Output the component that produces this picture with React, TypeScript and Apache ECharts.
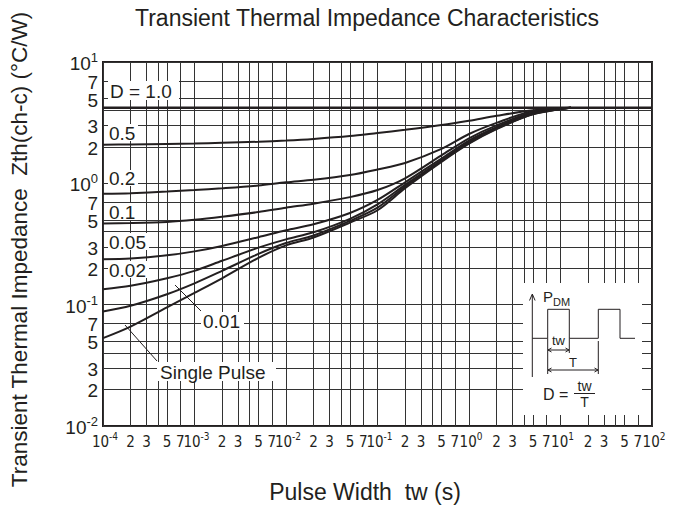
import React, { useEffect, useRef } from "react";
import * as echarts from "echarts";

// ---- data ----
const durations = [1e-4, 2e-4, 5e-4, 1e-3, 2e-3, 5e-3, 1e-2, 2e-2, 5e-2, 1e-1, 2e-1, 5e-1, 1, 2, 5, 13];
const zthD050 = [2.08, 2.09, 2.11, 2.13, 2.16, 2.2, 2.25, 2.32, 2.45, 2.6, 2.76, 3.02, 3.28, 3.6, 4.0, 4.2];
const zthD020 = [0.82, 0.83, 0.855, 0.88, 0.91, 0.96, 1.02, 1.07, 1.17, 1.3, 1.47, 1.92, 2.55, 3.15, 3.95, 4.2];
const zthD010 = [0.467, 0.47, 0.48, 0.5, 0.53, 0.58, 0.63, 0.68, 0.77, 0.88, 1.1, 1.7, 2.35, 3.0, 3.85, 4.2];
const zthD005 = [0.237, 0.24, 0.255, 0.275, 0.305, 0.36, 0.41, 0.46, 0.57, 0.73, 1.02, 1.6, 2.25, 2.9, 3.8, 4.2];
const zthD002 = [0.134, 0.143, 0.165, 0.19, 0.23, 0.295, 0.345, 0.395, 0.51, 0.67, 0.97, 1.55, 2.2, 2.85, 3.75, 4.2];
const zthD001 = [0.088, 0.098, 0.122, 0.15, 0.19, 0.262, 0.322, 0.372, 0.49, 0.63, 0.94, 1.52, 2.15, 2.82, 3.72, 4.2];
const zthSingle = [0.053, 0.066, 0.095, 0.125, 0.165, 0.243, 0.308, 0.358, 0.475, 0.6, 0.91, 1.5, 2.12, 2.8, 3.7, 4.2];
const steadyDurations = [1e-4, 1e2];
const zthD100 = [4.2, 4.2];

const curveNames = ["0.5", "0.2", "0.1", "0.05", "0.02", "0.01", "Single Pulse"];
const curveValues = [zthD050, zthD020, zthD010, zthD005, zthD002, zthD001, zthSingle];

// ---- axes ----
const gridMantissas = [1, 2, 3, 4, 5, 7];
const labelMantissas = [1, 2, 3, 5, 7];
const xDecades = [-4, -3, -2, -1, 0, 1];
const yDecades = [-2, -1, 0];
const xMin = 1e-4;
const xMax = 100;
const yMin = 0.01;
const yMax = 10;

const TITLE = "Transient Thermal Impedance Characteristics";
const X_NAME = "Pulse Width  tw (s)";
const Y_NAME = "Transient Thermal Impedance  Zth(ch-c) (°C/W)";

const FONT = "'Liberation Sans', Arial, Helvetica, sans-serif";
const NARROW = "'Liberation Sans Narrow', 'DejaVu Sans Condensed', 'Liberation Sans', sans-serif";
const INK = "#231f20";

function build(decades: number[], mant: number[]) {
  const out: number[] = [];
  decades.forEach((d) => mant.forEach((m) => out.push(parseFloat((m * Math.pow(10, d)).toPrecision(6)))));
  return out;
}
// the top decade value, nudged inside the axis extent so it is not filtered out
const inside = (v: number) => v * (1 - 1e-9);

const xGrid = [...build(xDecades, gridMantissas), inside(xMax)];
const yGrid = [...build(yDecades, gridMantissas), inside(yMax)];
const xLabels = build(xDecades, labelMantissas);
const yLabelsAll = build(yDecades, labelMantissas);
// labels near the top are split over extra axes so ECharts does not drop crowded end labels
const yLabelsMain = yLabelsAll.slice(0, -1);
const yLabelsNearTop = yLabelsAll.slice(-1);

function sup(n: number) {
  return n < 0 ? "-" + Math.abs(n) : String(n);
}

function fmt(v: number) {
  const e = Math.floor(Math.log10(v) + 1e-6);
  const m = Math.round(v / Math.pow(10, e));
  if (m === 1) return "{d|10}{s|" + sup(e) + "}";
  return "{b|" + m + "}";
}

const xRich = {
  b: { fontSize: 15, fontFamily: NARROW, color: INK, verticalAlign: "bottom", lineHeight: 18 },
  d: { fontSize: 15, fontFamily: NARROW, color: INK, verticalAlign: "bottom", lineHeight: 18, padding: [0, 0, 0, 4] },
  s: { fontSize: 10, fontFamily: NARROW, color: INK, verticalAlign: "top", lineHeight: 10 },
};
const yRich = {
  b: { fontSize: 19, fontFamily: FONT, color: INK, verticalAlign: "bottom", lineHeight: 22 },
  d: { fontSize: 19, fontFamily: FONT, color: INK, verticalAlign: "bottom", lineHeight: 22 },
  s: { fontSize: 13, fontFamily: FONT, color: INK, verticalAlign: "top", lineHeight: 12 },
};

export default function App() {
  const ref = useRef<HTMLDivElement>(null);
  useEffect(() => {
    if (!ref.current) return;
    const chart = echarts.init(ref.current, null, { renderer: "svg" });
    const line = (pts: number[][]) => ({ type: "polyline", shape: { points: pts }, style: { stroke: INK, lineWidth: 1, fill: null }, z: 20 });
    const seg = (x1: number, y1: number, x2: number, y2: number, w = 1) => ({ type: "line", shape: { x1, y1, x2, y2 }, style: { stroke: INK, lineWidth: w }, z: 20 });
    const txt = (x: number, y: number, text: string, size: number, align = "left", rich?: any) => ({
      type: "text",
      x,
      y,
      z: 21,
      style: { text, fontSize: size, fontFamily: FONT, fill: INK, align, verticalAlign: "middle", rich },
    });
    const whiteBox = (x: number, y: number, w: number, h: number) => ({ type: "rect", shape: { x, y, width: w, height: h }, style: { fill: "#fff" }, z: 19 });

    const hiddenParts = { axisLine: { show: false }, axisTick: { show: false }, splitLine: { show: false } };
    const labelOnlyX = (values: number[]) => ({
      type: "log",
      logBase: 10,
      min: xMin,
      max: xMax,
      position: "bottom",
      ...hiddenParts,
      axisLabel: { customValues: values, formatter: (v: number) => fmt(v), margin: 5, rich: xRich },
    });
    const labelOnlyY = (values: number[]) => ({
      type: "log",
      logBase: 10,
      min: yMin,
      max: yMax,
      position: "left",
      ...hiddenParts,
      axisLabel: { customValues: values, formatter: (v: number) => fmt(v), margin: 5, rich: yRich },
    });

    const option: any = {
      animation: false,
      backgroundColor: "#fff",
      title: {
        text: TITLE,
        left: 362,
        top: 1,
        textAlign: "center",
        textStyle: { fontSize: 23, fontWeight: "normal", fontFamily: FONT, color: INK },
      },
      grid: { left: 103, top: 62, width: 549, height: 364, show: true, borderColor: INK, borderWidth: 2, containLabel: false },
      xAxis: [
        {
          type: "log",
          logBase: 10,
          min: xMin,
          max: xMax,
          name: X_NAME,
          nameLocation: "middle",
          nameGap: 54,
          nameTextStyle: { fontSize: 23, fontFamily: FONT, color: INK, padding: [0, 25, 0, 0] },
          axisLine: { show: false },
          axisTick: { show: false, customValues: xGrid },
          splitLine: { show: true, lineStyle: { color: "#333", width: 1 } },
          axisLabel: { customValues: xLabels, formatter: (v: number) => fmt(v), margin: 5, rich: xRich },
        },
        labelOnlyX([inside(xMax)]),
      ],
      yAxis: [
        {
          type: "log",
          logBase: 10,
          min: yMin,
          max: yMax,
          name: Y_NAME,
          nameLocation: "middle",
          nameRotate: 90,
          nameGap: 72,
          nameTextStyle: { fontSize: 22.5, fontFamily: FONT, color: INK, padding: [0, 11, 0, 0] },
          axisLine: { show: false },
          axisTick: { show: false, customValues: yGrid },
          splitLine: { show: true, lineStyle: { color: "#333", width: 1 } },
          axisLabel: { customValues: yLabelsMain, formatter: (v: number) => fmt(v), margin: 5, rich: yRich },
        },
        labelOnlyY(yLabelsNearTop),
        labelOnlyY([inside(yMax)]),
      ],
      series: [
        {
          type: "line",
          name: "1.0",
          data: steadyDurations.map((t, i) => [t, zthD100[i]]),
          showSymbol: false,
          lineStyle: { color: INK, width: 2.5 },
          silent: true,
          z: 10,
        },
        ...curveNames.map((n, k) => ({
          type: "line",
          name: n,
          data: durations.map((t, i) => [t, curveValues[k][i]]),
          showSymbol: false,
          smooth: 0.3,
          lineStyle: { color: INK, width: 2 },
          silent: true,
          z: 10,
        })),
      ],
      graphic: [
        // curve labels
        whiteBox(108, 81, 71, 19),
        txt(110, 91, "D = 1.0", 19),
        whiteBox(108, 124, 30, 17),
        txt(109, 133, "0.5", 19),
        whiteBox(108, 170, 30, 16),
        txt(109, 178, "0.2", 19),
        whiteBox(108, 203, 30, 17),
        txt(109, 212, "0.1", 19),
        whiteBox(108, 233, 41, 17),
        txt(109, 242, "0.05", 19),
        whiteBox(108, 261, 41, 17),
        txt(109, 270, "0.02", 19),
        whiteBox(201, 312, 43, 18),
        txt(203, 321, "0.01", 19),
        seg(175, 285, 201, 311),
        whiteBox(157, 362, 119, 19),
        txt(160, 372, "Single Pulse", 19),
        seg(125, 325, 157, 361),
        // inset: pulse definition
        whiteBox(523, 283, 119, 132),
        seg(532.3, 377, 532.3, 295),
        line([[529.5, 300.5], [532.3, 294], [535.1, 300.5]]),
        txt(543, 298, "{p|P}{s|DM}", 15, "left", {
          p: { fontSize: 15, fontFamily: FONT, fill: INK, verticalAlign: "top", lineHeight: 16 },
          s: { fontSize: 11, fontFamily: FONT, fill: INK, verticalAlign: "bottom", lineHeight: 18 },
        }),
        line([[532.3, 338.3], [547.7, 338.3], [547.7, 309.3], [569.3, 309.3], [569.3, 338.3], [598.3, 338.3], [598.3, 309.3], [620, 309.3], [620, 338.3], [635, 338.3]]),
        seg(547.7, 338.3, 547.7, 374),
        seg(569.3, 338.3, 569.3, 353),
        seg(598.3, 341, 598.3, 374),
        txt(558.5, 340, "tw", 13, "center"),
        seg(548, 350, 569, 350),
        line([[551.5, 348], [548, 350], [551.5, 352]]),
        line([[565.5, 348], [569, 350], [565.5, 352]]),
        txt(573, 362, "T", 13, "center"),
        seg(548, 370, 598, 370),
        line([[551.5, 368], [548, 370], [551.5, 372]]),
        line([[594.5, 368], [598, 370], [594.5, 372]]),
        txt(543, 394, "D =", 16),
        txt(584.5, 386, "tw", 14, "center"),
        seg(574, 393.5, 595, 393.5),
        txt(584.5, 402, "T", 14, "center"),
      ],
    };
    chart.setOption(option);
    return () => chart.dispose();
  }, []);
  return <div ref={ref} style={{ position: "absolute", left: 0, top: 0, width: 674, height: 508 }} />;
}
